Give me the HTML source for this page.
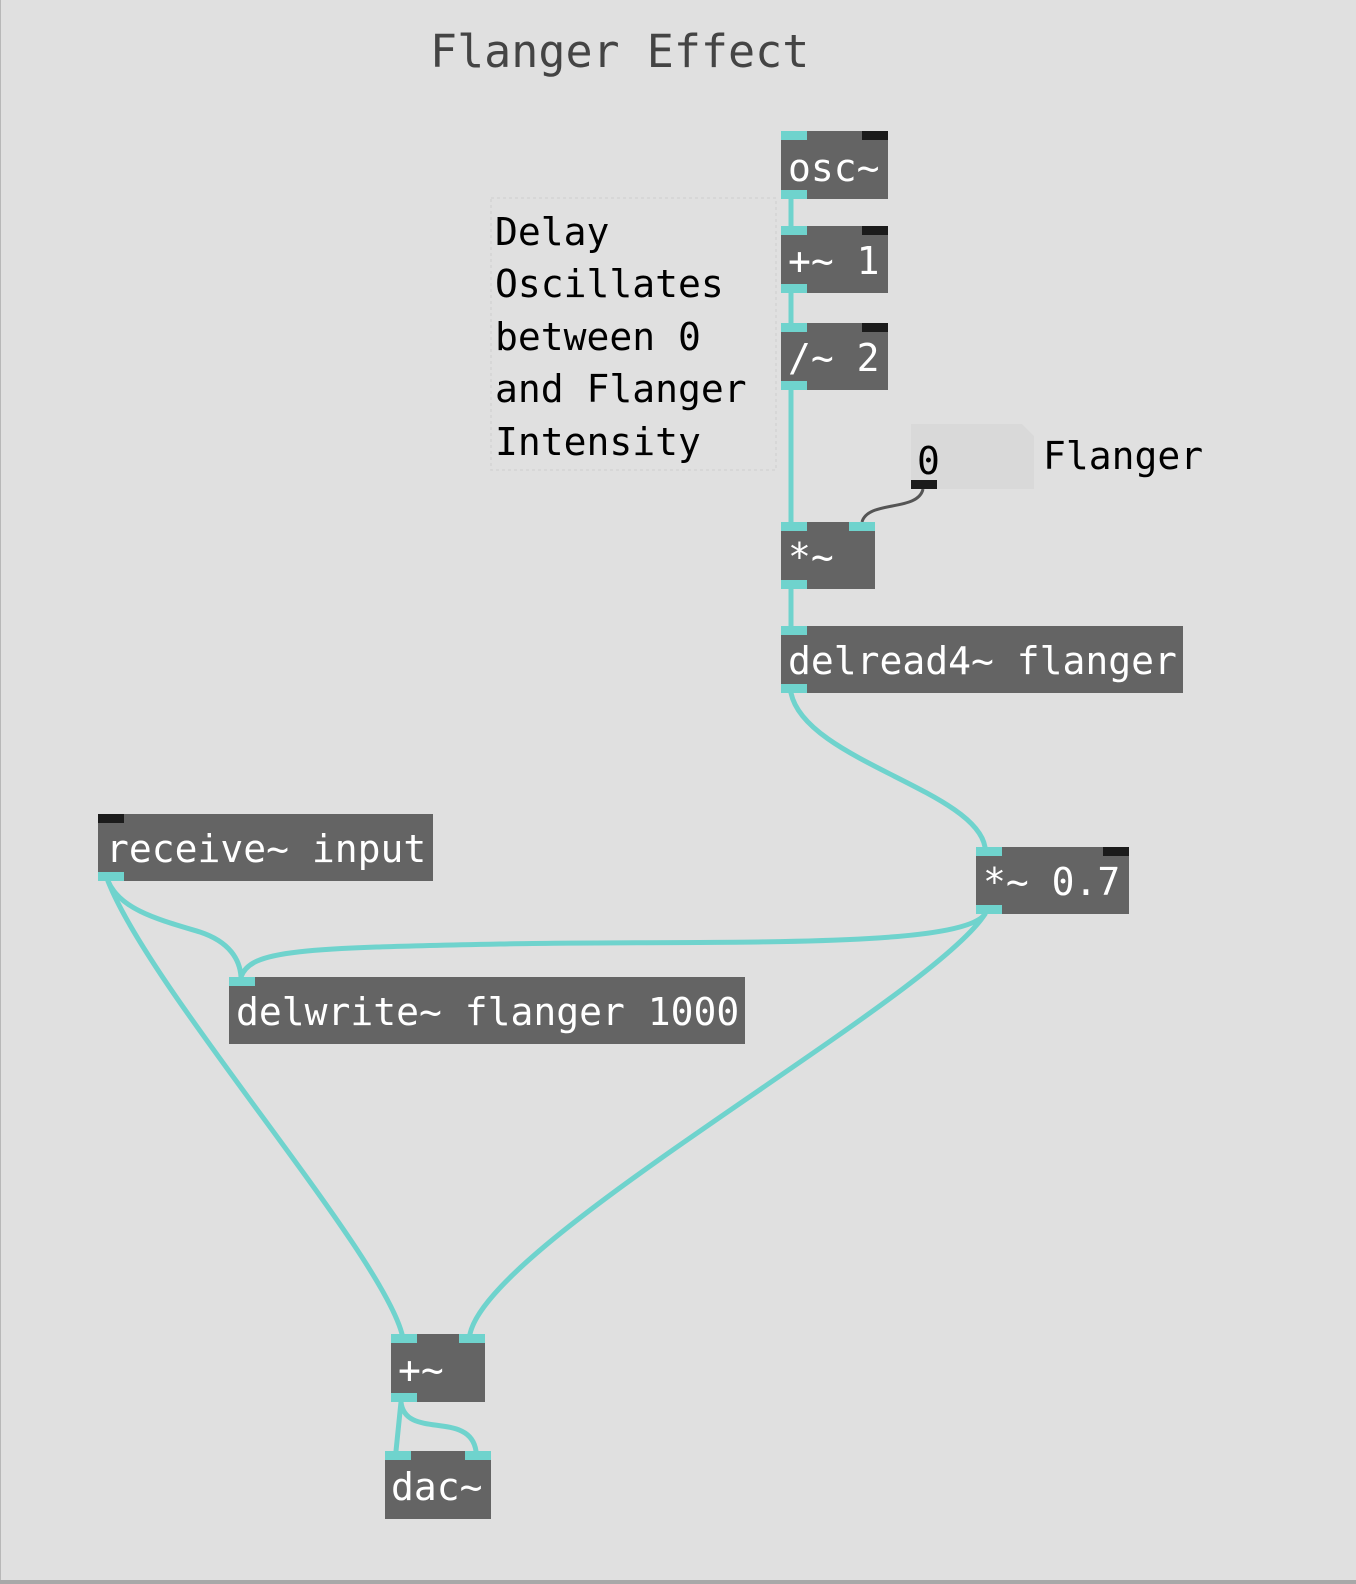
<!DOCTYPE html>
<html><head><meta charset="utf-8"><style>
html,body{margin:0;padding:0;background:#e0e0e0;}
svg{display:block;}
text{font-family:"DejaVu Sans Mono","Liberation Mono",monospace;}
.bt{fill:#fff;font-size:38px;}
.ct{fill:#000;font-size:38px;}
</style></head><body>
<svg width="1356" height="1584" viewBox="0 0 1356 1584" xmlns="http://www.w3.org/2000/svg">
<rect x="0" y="0" width="1356" height="1584" fill="#e0e0e0"/>
<line x1="0.5" y1="0" x2="0.5" y2="1584" stroke="#b8b8b8" stroke-width="1"/>
<rect x="0" y="1580" width="1356" height="4" fill="#a8a8a8"/>
<text x="430" y="67" font-size="45" fill="#444">Flanger Effect</text>

<!-- comment -->
<rect x="491" y="198" width="285" height="272" fill="none" stroke="#d4d4d4" stroke-width="1.5" stroke-dasharray="3,3"/>
<text class="ct" x="495" y="245">Delay</text>
<text class="ct" x="495" y="297">Oscillates</text>
<text class="ct" x="495" y="350">between 0</text>
<text class="ct" x="495" y="402">and Flanger</text>
<text class="ct" x="495" y="455">Intensity</text>

<!-- connections -->
<g fill="none" stroke="#6fd3cd" stroke-width="5" stroke-linecap="round">
<line x1="791" y1="199" x2="791" y2="226"/>
<line x1="791" y1="293" x2="791" y2="323"/>
<line x1="791" y1="390" x2="791" y2="522"/>
<line x1="791" y1="589" x2="791" y2="626"/>
<path d="M791 693 C 805 760, 975 790, 985 847"/>
<path d="M985 914 C 960 950, 700 940, 500 944 C 300 948, 250 950, 241 977"/>
<path d="M985 914 C 930 1000, 490 1240, 470 1334"/>
<path d="M108 881 C 120 910, 160 920, 200 932 C 230 942, 240 960, 241 977"/>
<path d="M108 881 C 150 990, 380 1250, 402 1334"/>
<line x1="401" y1="1402" x2="396" y2="1451"/>
<path d="M401 1402 C 405 1440, 470 1410, 476 1451"/>
</g>
<path d="M923 489 C 918 512, 868 500, 862 522" fill="none" stroke="#555" stroke-width="3"/>

<!-- number box -->
<path d="M911 424 H1022 L1034 436 V489 H911 Z" fill="#d9d9d9"/>
<text class="ct" x="917" y="474">0</text>
<rect x="911" y="480" width="26" height="9" fill="#1b1b1b"/>
<text class="ct" x="1043" y="469">Flanger</text>

<!-- boxes -->
<g>
<rect x="781" y="131" width="107" height="68" fill="#646464"/>
<rect x="781" y="131" width="26" height="9" fill="#6fd3cd"/>
<rect x="862" y="131" width="26" height="9" fill="#1b1b1b"/>
<rect x="781" y="190" width="26" height="9" fill="#6fd3cd"/>
<text class="bt" x="788" y="181">osc~</text>

<rect x="781" y="226" width="107" height="67" fill="#646464"/>
<rect x="781" y="226" width="26" height="9" fill="#6fd3cd"/>
<rect x="862" y="226" width="26" height="9" fill="#1b1b1b"/>
<rect x="781" y="284" width="26" height="9" fill="#6fd3cd"/>
<text class="bt" x="788" y="274">+~ 1</text>

<rect x="781" y="323" width="107" height="67" fill="#646464"/>
<rect x="781" y="323" width="26" height="9" fill="#6fd3cd"/>
<rect x="862" y="323" width="26" height="9" fill="#1b1b1b"/>
<rect x="781" y="381" width="26" height="9" fill="#6fd3cd"/>
<text class="bt" x="788" y="371">/~ 2</text>

<rect x="781" y="522" width="94" height="67" fill="#646464"/>
<rect x="781" y="522" width="26" height="9" fill="#6fd3cd"/>
<rect x="849" y="522" width="26" height="9" fill="#6fd3cd"/>
<rect x="781" y="580" width="26" height="9" fill="#6fd3cd"/>
<text class="bt" x="788" y="570">*~</text>

<rect x="781" y="626" width="402" height="67" fill="#646464"/>
<rect x="781" y="626" width="26" height="9" fill="#6fd3cd"/>
<rect x="781" y="684" width="26" height="9" fill="#6fd3cd"/>
<text class="bt" x="788" y="674">delread4~ flanger</text>

<rect x="976" y="847" width="153" height="67" fill="#646464"/>
<rect x="976" y="847" width="26" height="9" fill="#6fd3cd"/>
<rect x="1103" y="847" width="26" height="9" fill="#1b1b1b"/>
<rect x="976" y="905" width="26" height="9" fill="#6fd3cd"/>
<text class="bt" x="983" y="895">*~ 0.7</text>

<rect x="98" y="814" width="335" height="67" fill="#646464"/>
<rect x="98" y="814" width="26" height="9" fill="#1b1b1b"/>
<rect x="98" y="872" width="26" height="9" fill="#6fd3cd"/>
<text class="bt" x="106" y="862">receive~ input</text>

<rect x="229" y="977" width="516" height="67" fill="#646464"/>
<rect x="229" y="977" width="26" height="9" fill="#6fd3cd"/>
<text class="bt" x="236" y="1025">delwrite~ flanger 1000</text>

<rect x="391" y="1334" width="94" height="68" fill="#646464"/>
<rect x="391" y="1334" width="26" height="9" fill="#6fd3cd"/>
<rect x="459" y="1334" width="26" height="9" fill="#6fd3cd"/>
<rect x="391" y="1393" width="26" height="9" fill="#6fd3cd"/>
<text class="bt" x="398" y="1383">+~</text>

<rect x="385" y="1451" width="106" height="68" fill="#646464"/>
<rect x="385" y="1451" width="26" height="9" fill="#6fd3cd"/>
<rect x="465" y="1451" width="26" height="9" fill="#6fd3cd"/>
<text class="bt" x="391" y="1500">dac~</text>
</g>
</svg>
</body></html>
